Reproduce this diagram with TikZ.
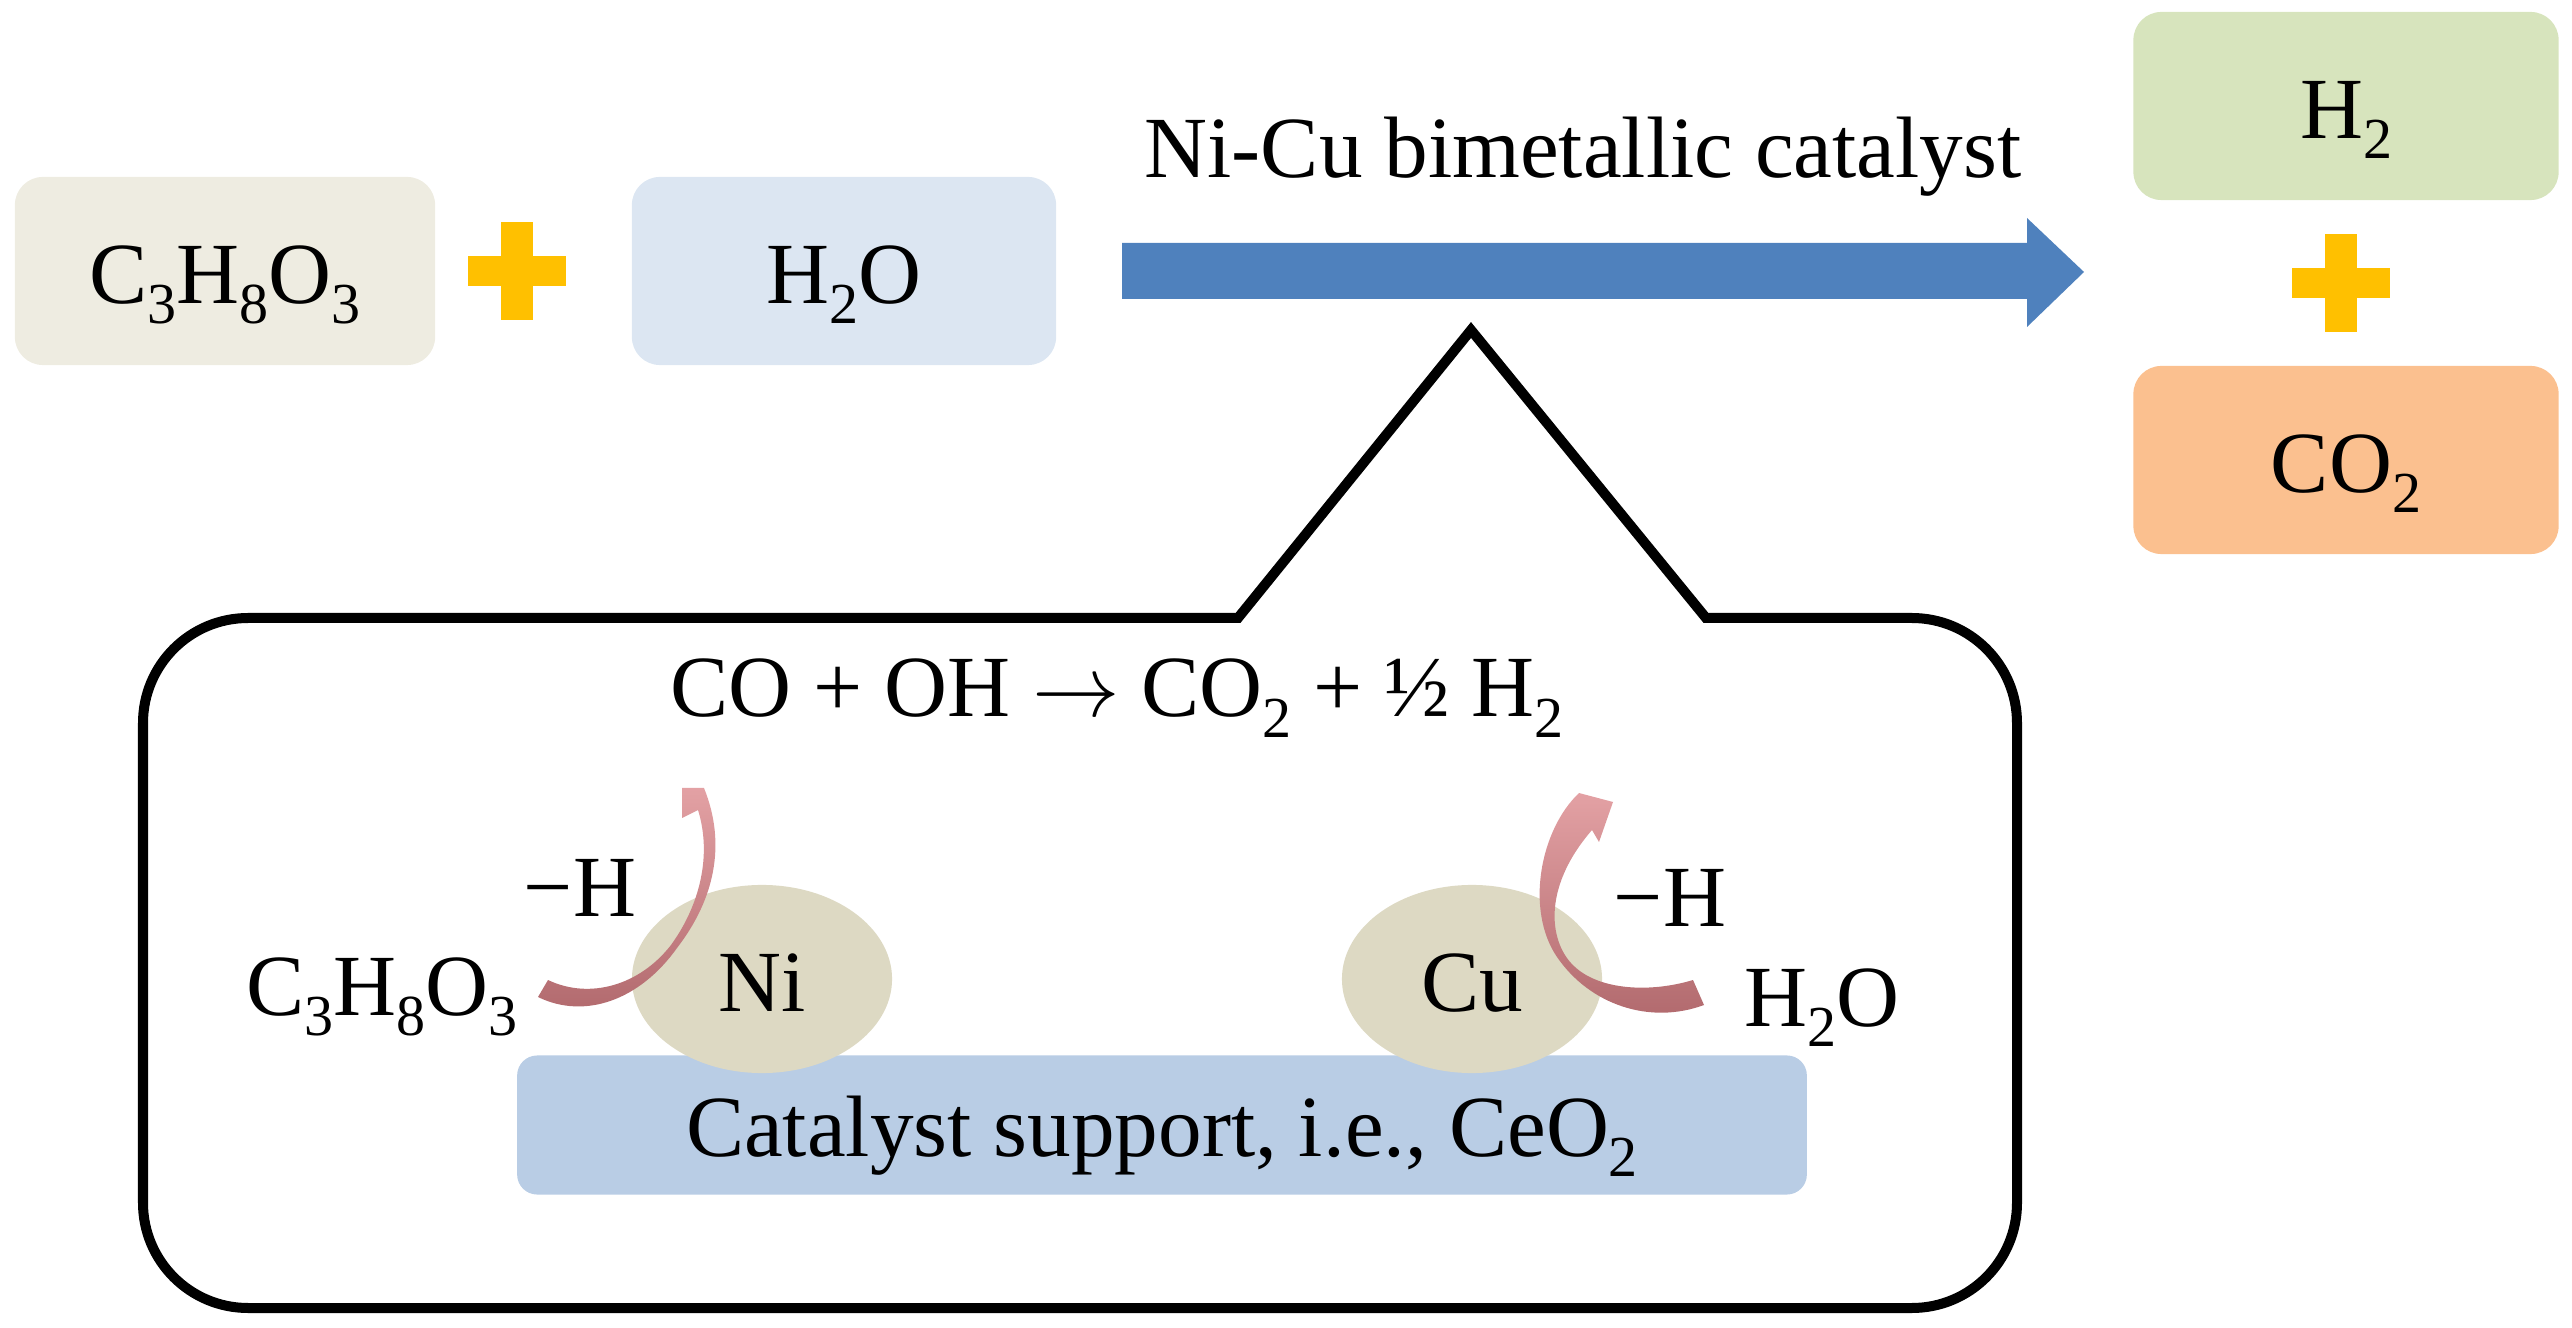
\documentclass[tikz,border=0pt]{standalone}
\usepackage{fontspec}
\usetikzlibrary{shapes.geometric}
\setmainfont{Liberation Serif}
\definecolor{sandbox}{HTML}{EEECE1}
\definecolor{icebox}{HTML}{DCE6F2}
\definecolor{leafbox}{HTML}{D7E4BD}
\definecolor{peachbox}{HTML}{FBC08F}
\definecolor{amber}{HTML}{FFC000}
\definecolor{steel}{HTML}{4F81BD}
\definecolor{support}{HTML}{B9CDE5}
\definecolor{metal}{HTML}{DDD9C3}
\definecolor{roseup}{HTML}{E3A1A4}
\definecolor{rosedown}{HTML}{B0686C}
\newcommand{\chemfont}{\fontsize{24.8}{30}\selectfont}
\newcommand{\sbs}[1]{\raisebox{-0.2cm}{\fontsize{16.5}{18}\selectfont #1}}
\newcommand{\plusmark}[2]{\fill[amber] (#1-49,#2-15) rectangle (#1+49,#2+15); \fill[amber] (#1-16,#2-49) rectangle (#1+16,#2+49);}
\tikzset{
    every node/.style={font=\chemfont,inner sep=0pt},
    lbl/.style={anchor=base},
    species/.style={rectangle,rounded corners=0.28cm,minimum width=#1,minimum height=1.88cm,text height=0.64cm,text depth=0cm},
    atom/.style={ellipse,fill=metal,minimum width=2.6cm,minimum height=1.88cm,text height=0.64cm,text depth=0cm},
    hop/.style={top color=roseup,bottom color=rosedown,draw=none}
}

\begin{document}
\begin{tikzpicture}[x=0.01cm,y=-0.01cm]
    \useasboundingbox (0,0) rectangle (2572,1328);

    % top row
    \node[species=4.2cm,fill=sandbox] (glycerol) at (225,271) {C\sbs{3}H\sbs{8}O\sbs{3}};
    \node[species=4.24cm,fill=icebox] (water) at (844,271) {H\sbs{2}O};
    \plusmark{517}{271}
    \node[species=4.25cm,fill=leafbox] (hydrogen) at (2346,106) {H\sbs{2}};
    \node[species=4.25cm,fill=peachbox] (carbon) at (2346,460) {CO\sbs{2}};
    \plusmark{2341}{283}

    % main arrow
    \coordinate (flowstart) at (1122,271);
    \coordinate (flowtip) at (2084,272);
    \fill[steel] (flowstart) ++(0,-28) -- (2027,243) -- (2027,218) -- (flowtip) -- (2027,327) -- (2027,299) -- (1122,299) -- cycle;
    \node[lbl] (catalyst) at (1583,178) {Ni-Cu bimetallic catalyst};

    % callout
    \draw[line width=0.1cm,miter limit=10] (1471,330) -- (1706,618) [rounded corners=1.05cm] -- (2017,618) -- (2017,1308) -- (143,1308) -- (143,618) [sharp corners] -- (1238,618) -- cycle;
    \node[lbl] (reaction) at (1117,717) {CO + OH $\rightarrow$ CO\sbs{2} + ½ H\sbs{2}};

    % catalyst
    \node[species=12.89cm,fill=support,minimum height=1.39cm,rounded corners=0.2cm,text height=0.62cm] (ceria) at (1162,1125) {Catalyst support, i.e., CeO\sbs{2}};
    \node[atom] (ni) at (762,979) {Ni};
    \node[atom] (cu) at (1472,979) {Cu};

    \shade[hop] (548,980) .. controls (590,1000) and (640,985) .. (671,945) .. controls (700,905) and (712,855) .. (698,810) -- (682,818) -- (682,788) -- (704,788) .. controls (727,845) and (714,900) .. (677,948) .. controls (640,1000) and (585,1020) .. (538,997) -- cycle;
    \shade[hop] (1693,980) .. controls (1650,993) and (1600,990) .. (1575,967) .. controls (1550,945) and (1540,890) .. (1592,830) -- (1599,842) -- (1613,802) -- (1579,793) .. controls (1540,830) and (1525,910) .. (1557,957) .. controls (1590,1005) and (1650,1025) .. (1704,1005) -- cycle;

    \node[lbl] (minusni) at (580,916) {−H};
    \node[lbl] (minuscu) at (1670,926) {−H};
    \node[lbl] (gly) at (382,1015) {C\sbs{3}H\sbs{8}O\sbs{3}};
    \node[lbl] (wat) at (1822,1026) {H\sbs{2}O};
\end{tikzpicture}
\end{document}
